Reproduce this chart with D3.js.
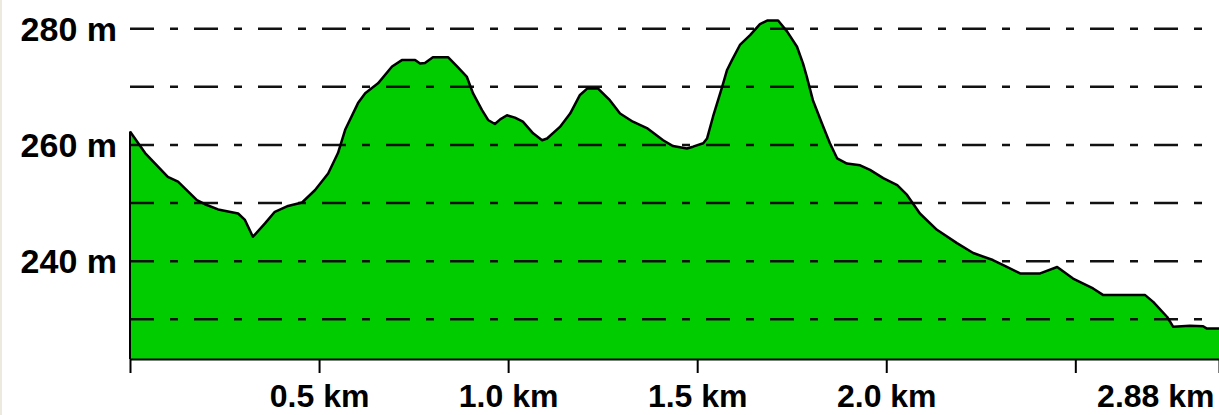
<!DOCTYPE html>
<html>
<head>
<meta charset="utf-8">
<script src="https://cdn.jsdelivr.net/npm/d3@7"></script>
<style>
  body { margin: 0; background: #fff; }
  svg { display: block; }
</style>
</head>
<body>
<div id="chart"></div>
<script>
// profile samples (km, m)
var distances = [
  0.000, 0.040, 0.100, 0.127, 0.177, 0.198, 0.233, 0.286, 0.304, 0.325,
  0.357, 0.383, 0.418, 0.455, 0.489, 0.524, 0.550, 0.569, 0.603, 0.622,
  0.656, 0.693, 0.719, 0.754, 0.767, 0.780, 0.801, 0.841, 0.865, 0.891,
  0.907, 0.931, 0.947, 0.965, 0.979, 0.997, 1.018, 1.039, 1.066, 1.090,
  1.103, 1.137, 1.164, 1.190, 1.209, 1.238, 1.269, 1.296, 1.330, 1.367,
  1.410, 1.436, 1.473, 1.489, 1.516, 1.526, 1.542, 1.566, 1.579, 1.592,
  1.613, 1.640, 1.666, 1.685, 1.714, 1.738, 1.764, 1.780, 1.790, 1.806,
  1.830, 1.851, 1.870, 1.896, 1.931, 1.957, 1.992, 2.029, 2.055, 2.089,
  2.134, 2.187, 2.230, 2.282, 2.319, 2.354, 2.407, 2.452, 2.494, 2.547,
  2.573, 2.684, 2.706, 2.743, 2.759, 2.803, 2.838, 2.848, 2.880
];
var elevations = [
  262.3, 258.6, 254.5, 253.7, 250.5, 249.8, 248.9, 248.2, 247.1, 244.2,
  246.5, 248.5, 249.5, 250.1, 252.2, 255.1, 258.6, 262.6, 267.2, 268.9,
  270.6, 273.5, 274.6, 274.6, 274.0, 274.1, 275.1, 275.1, 273.5, 271.7,
  268.9, 266.0, 264.3, 263.6, 264.4, 265.1, 264.7, 264.0, 262.0, 260.8,
  261.1, 263.1, 265.4, 268.6, 269.7, 269.7, 267.7, 265.4, 264.0, 262.9,
  260.8, 259.8, 259.4, 259.7, 260.3, 261.1, 264.9, 270.0, 272.9, 274.6,
  277.2, 278.9, 280.8, 281.4, 281.4, 279.5, 276.9, 274.0, 271.7, 267.7,
  263.7, 260.3, 257.7, 256.8, 256.5, 255.7, 254.3, 253.1, 251.4, 248.2,
  245.4, 243.1, 241.4, 240.2, 239.0, 237.9, 237.9, 239.0, 237.0, 235.3,
  234.2, 234.2, 233.0, 230.4, 228.7, 228.9, 228.8, 228.4, 228.4
];

var gridLevels = [230, 240, 250, 260, 270, 280];
var labelLevels = [280, 260, 240];
var tickValues = [0, 0.5, 1.0, 1.5, 2.0, 2.5, 2.88];
var tickLabels = ["", "0.5 km", "1.0 km", "1.5 km", "2.0 km", "", "2.88 km"];

var width = 1219,
  height = 415,
  margin = { left: 130, right: 0 },
  baseY = 359,
  fillColor = '#00cc00',
  font = '"Liberation Sans", Arial, sans-serif';

var x = d3.scaleLinear()
  .domain([0, 2.88])
  .range([margin.left, width - margin.right]);

var y = d3.scaleLinear()
  .domain([230, 280])
  .range([319.3, 28.7]);

var data = distances.map(function (d, i) {
  return { d: d, e: elevations[i] };
});

var svg = d3.select('#chart').append('svg')
  .attr('width', width)
  .attr('height', height);

// faint window edge on the left
svg.append('rect')
  .attr('x', 0)
  .attr('y', 0)
  .attr('width', 2)
  .attr('height', height)
  .attr('fill', '#ece9df');

// green profile
var area = d3.area()
  .x(d => x(d.d))
  .y0(baseY)
  .y1(d => y(d.e));

svg.append('path')
  .datum(data)
  .attr('d', area)
  .attr('fill', fillColor);

// dash-dot grid lines on top of the fill
svg.append('g')
  .selectAll('line')
  .data(gridLevels)
  .join('line')
  .attr('x1', x(0))
  .attr('x2', width - 16)
  .attr('y1', d => y(d))
  .attr('y2', d => y(d))
  .attr('stroke', '#111')
  .attr('stroke-width', 2.5)
  .attr('stroke-dasharray', '24,16,8,16');

// outline of the profile (top edge + left edge)
var line = d3.line()
  .x(d => x(d.d))
  .y(d => y(d.e));

svg.append('path')
  .datum(data)
  .attr('d', line)
  .attr('fill', 'none')
  .attr('stroke', '#000')
  .attr('stroke-width', 2.5)
  .attr('stroke-linejoin', 'round');

svg.append('line')
  .attr('x1', x(0))
  .attr('x2', x(0))
  .attr('y1', y(elevations[0]))
  .attr('y2', baseY)
  .attr('stroke', '#000')
  .attr('stroke-width', 2);

// y labels
svg.append('g')
  .selectAll('text')
  .data(labelLevels)
  .join('text')
  .attr('x', x(0) - 13)
  .attr('y', d => y(d))
  .attr('dy', '0.36em')
  .attr('text-anchor', 'end')
  .style('font', 'bold 34px ' + font)
  .attr('fill', '#000')
  .text(d => d + ' m');

// bottom axis
var xAxis = d3.axisBottom(x)
  .tickValues(tickValues)
  .tickSize(14)
  .tickSizeOuter(0)
  .tickPadding(11)
  .tickFormat((d, i) => tickLabels[i]);

var gx = svg.append('g')
  .attr('transform', 'translate(0,' + baseY + ')')
  .call(xAxis);

gx.attr('font-size', null).attr('font-family', null);
gx.select('.domain').attr('stroke', '#000').attr('stroke-width', 2);
gx.selectAll('.tick line').attr('stroke', '#000').attr('stroke-width', 2);
gx.selectAll('.tick text')
  .style('font', 'bold 32px ' + font)
  .attr('fill', '#000')
  .attr('text-anchor', (d, i) => i === tickValues.length - 1 ? 'end' : 'middle')
  .attr('dx', (d, i) => i === tickValues.length - 1 ? -5 : 0);
</script>
</body>
</html>
